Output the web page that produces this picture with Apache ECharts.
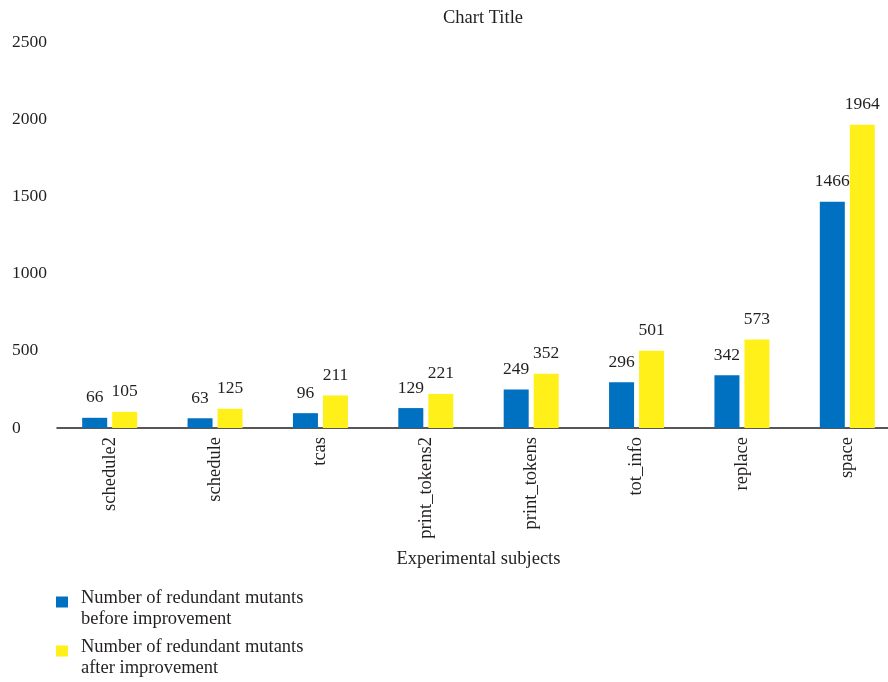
<!DOCTYPE html>
<html><head><meta charset="utf-8">
<script src="https://cdn.jsdelivr.net/npm/echarts@6/dist/echarts.min.js"></script>
<style>html,body{margin:0;padding:0;background:#fff;overflow:hidden}#c{width:900px;height:682px}</style>
</head><body><div id="c"></div>
<script>
var categories = ['schedule2','schedule','tcas','print_tokens2','print_tokens','tot_info','replace','space'];
var beforeVals = [66, 63, 96, 129, 249, 296, 342, 1466];
var afterVals = [105, 125, 211, 221, 352, 501, 573, 1964];
var seriesNames = ['Number of redundant mutants\nbefore improvement','Number of redundant mutants\nafter improvement'];
var FONT = '"Liberation Serif", "DejaVu Serif", serif';
var TXT = '#231f20';
var icon = 'path://M0,0H12V11H0Z M0,25H20Z';
var chart = echarts.init(document.getElementById('c'));
chart.setOption({
  animation: false,
  textStyle: {fontFamily: FONT},
  title: {text: 'Chart Title', left: 478, top: 4, textAlign: 'center',
    textStyle: {fontFamily: FONT, fontSize: 18.5, fontWeight: 'normal', color: TXT}},
  grid: {left: 57, right: 0, top: 42, bottom: 254},
  legend: {orient: 'vertical', left: 56, top: 588, padding: 0, itemGap: 7,
    itemWidth: 20, itemHeight: 25, icon: icon,
    data: [{name: seriesNames[0], icon: icon}, {name: seriesNames[1], icon: icon}],
    textStyle: {fontFamily: FONT, fontSize: 18.5, lineHeight: 21, color: TXT}},
  xAxis: {type: 'category', data: categories,
    name: 'Experimental subjects', nameLocation: 'middle', nameGap: 122,
    nameTextStyle: {fontFamily: FONT, fontSize: 18.5, color: TXT},
    axisLine: {lineStyle: {color: TXT, width: 1.5}},
    axisTick: {show: false},
    axisLabel: {rotate: 90, margin: 9, fontFamily: FONT, fontSize: 18.5, color: TXT}},
  yAxis: {type: 'value', min: 0, max: 2500, interval: 500,
    axisLine: {show: false}, axisTick: {show: false}, splitLine: {show: false},
    axisLabel: {align: 'left', margin: 45, fontFamily: FONT, fontSize: 17.5, color: TXT,
      formatter: function (v) { return String(v); }}},
  series: [
    {name: seriesNames[0], type: 'bar', data: beforeVals, barWidth: 25, barGap: '20%',
     itemStyle: {color: '#0070C0'},
     label: {show: true, position: 'top', distance: 11, fontFamily: FONT, fontSize: 17.5, color: TXT}},
    {name: seriesNames[1], type: 'bar', data: afterVals, barWidth: 25, barGap: '20%',
     itemStyle: {color: '#FFF01A'},
     label: {show: true, position: 'top', distance: 11, fontFamily: FONT, fontSize: 17.5, color: TXT}}
  ]
});
</script></body></html>
